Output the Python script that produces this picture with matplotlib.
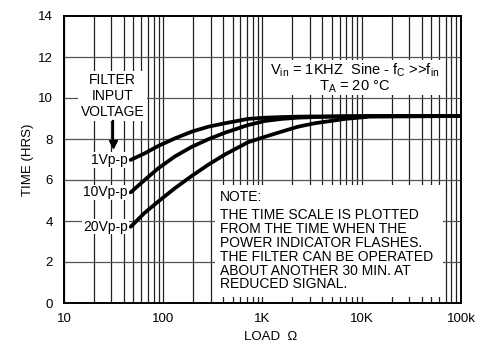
import matplotlib.pyplot as plt
from matplotlib.patches import Rectangle

plt.rcParams['font.family'] = ['Liberation Sans', 'DejaVu Sans']
plt.rcParams['mathtext.fontset'] = 'custom'
plt.rcParams['mathtext.rm'] = 'Liberation Sans'
plt.rcParams['mathtext.it'] = 'Liberation Sans'

# load (ohm) and run time (hours)
load = [47, 65, 89, 131, 194, 285, 420, 714, 1060, 1560, 2280, 3380, 6800, 12000, 100000]
t_1vpp = [6.98, 7.30, 7.66, 8.03, 8.36, 8.60, 8.77, 8.98, 9.04, 9.07, 9.09, 9.10, 9.11, 9.12, 9.12]
t_10vpp = [5.40, 6.00, 6.57, 7.15, 7.62, 7.99, 8.31, 8.68, 8.88, 8.98, 9.04, 9.07, 9.10, 9.12, 9.12]
t_20vpp = [3.72, 4.40, 4.95, 5.60, 6.20, 6.75, 7.25, 7.84, 8.11, 8.36, 8.60, 8.77, 8.98, 9.09, 9.12]
series = [("1Vp-p", t_1vpp), ("10Vp-p", t_10vpp), ("20Vp-p", t_20vpp)]

xticks = [10, 100, 1000, 10000, 100000]
xticklabels = ["10", "100", "1K", "10K", "100k"]
yticks = [0, 2, 4, 6, 8, 10, 12, 14]

note_lines = ["THE TIME SCALE IS PLOTTED", "FROM THE TIME WHEN THE",
              "POWER INDICATOR FLASHES.", "THE FILTER CAN BE OPERATED",
              "ABOUT ANOTHER 30 MIN. AT", "REDUCED SIGNAL."]

fig = plt.figure(figsize=(4.91, 3.43), dpi=100)
ax = fig.add_axes([64/491, 40/343, 397/491, 287/343])
ax.set_xscale('log')
ax.set_xlim(10, 100000)
ax.set_ylim(0, 14)

# grid
for dec in [10, 100, 1000, 10000]:
    for m in range(1, 10):
        ax.axvline(dec*m, color='#222222', lw=0.9, zorder=0)
for y in yticks[1:-1]:
    ax.axhline(y, color='#555555', lw=0.9, zorder=0)

for name, t in series:
    ax.plot(load, t, color='black', lw=2.7, solid_capstyle='round',
            solid_joinstyle='round', zorder=3)
    ax.text(44, t[0], name, ha='right', va='center', fontsize=10,
            bbox=dict(facecolor='white', edgecolor='none', pad=0.5), zorder=4)

ax.text(31, 10.1, "FILTER\nINPUT\nVOLTAGE", ha='center', va='center', fontsize=10,
        linespacing=1.15, bbox=dict(facecolor='white', edgecolor='none', pad=2), zorder=4)
ax.plot([31, 31], [8.9, 7.8], color='black', lw=1.6, zorder=5)
ax.plot([31], [7.75], marker='v', color='black', markersize=6, zorder=5)

# white panels behind the annotations
ax.add_patch(Rectangle((1012, 10.15), 69000 - 1012, 11.85 - 10.15,
                       facecolor='white', edgecolor='none', zorder=2))
ax.add_patch(Rectangle((332, 0.29), 65900 - 332, 5.76 - 0.29,
                       facecolor='white', edgecolor='none', zorder=2))

ax.text(8500, 10.95, "V$_{\\rm in}$ = 1KHZ  Sine - f$_{\\rm C}$ >>f$_{\\rm in}$\nT$_{\\rm A}$ = 20 \u00b0C",
        ha='center', va='center', fontsize=10.5, linespacing=1.0, zorder=4)

ax.text(370, 5.17, "NOTE:", ha='left', va='center', fontsize=10, zorder=4)
ax.text(370, 2.59, "\n".join(note_lines), ha='left', va='center', fontsize=10,
        linespacing=0.98, zorder=4)

ax.set_xticks(xticks)
ax.set_xticklabels(xticklabels)
ax.set_xticks([], minor=True)
ax.set_yticks(yticks)
ax.tick_params(length=0, labelsize=9.5, pad=8)
ax.tick_params(axis='x', pad=7)
ax.set_xlabel("LOAD  \u03a9", fontsize=9.5)
ax.xaxis.set_label_coords(0.52, -0.096)
ax.set_ylabel("TIME (HRS)", fontsize=9.5, labelpad=3)
for s in ax.spines.values():
    s.set_linewidth(1.4)

plt.savefig("out.png", dpi=100)
